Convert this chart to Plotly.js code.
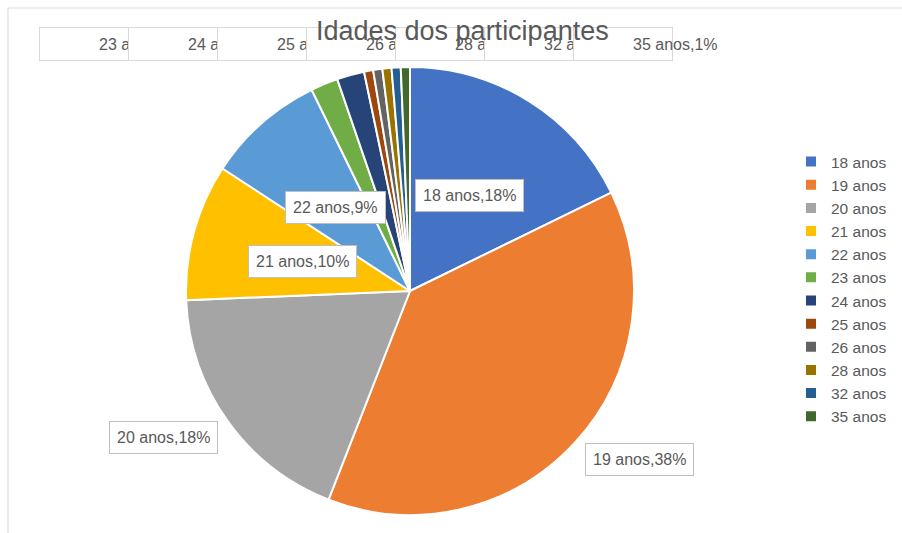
<!DOCTYPE html>
<html>
<head>
<meta charset="utf-8">
<script src="https://cdn.plot.ly/plotly-3.0.1.min.js"></script>
<style>html,body{margin:0;padding:0;background:#fff;}#chart{width:902px;height:533px;}</style>
</head>
<body>
<div id="chart"></div>
<script>
// ---- data ----
const labels = ["18 anos","19 anos","20 anos","21 anos","22 anos","23 anos","24 anos","25 anos","26 anos","28 anos","32 anos","35 anos"];
const counts = [27, 58, 28, 15, 13, 3, 3, 1, 1, 1, 1, 1];
const colors = ["#4472C4","#ED7D31","#A5A5A5","#FFC000","#5B9BD5","#70AD47","#264478","#9E480E","#636363","#997300","#255E91","#43682B"];
const titleText = "Idades dos participantes";

// ---- layout constants ----
const W = 902, H = 533;
const pieLeft = 186, pieTop = 67, pieSize = 448;
const cx = pieLeft + pieSize / 2, cy = pieTop + pieSize / 2, R = pieSize / 2;
const px = x => x / W;
const py = y => 1 - y / H;
const FONT = "Liberation Sans, Arial, sans-serif";
const TXT = "#595959";

// label placement rules (Excel "best fit" look)
const insideSet = {"18 anos":1, "21 anos":1, "22 anos":1};
const outsideSet = {"19 anos":1, "20 anos":1};
const rowStart = 39, rowStep = 89, rowBoxW = 100, rowTop = 27, rowBoxH = 34, rowTextOff = 58;

const total = counts.reduce((a, b) => a + b, 0);
const annotations = [];
let cum = 0, rowIdx = 0;
counts.forEach((v, i) => {
  const start = cum / total * 360;
  cum += v;
  const end = cum / total * 360;
  const mid = (start + end) / 2 * Math.PI / 180;
  const txt = labels[i] + "," + Math.round(v / total * 100) + "%";
  const base = {
    text: txt, showarrow: false, xref: "paper", yref: "paper",
    font: {family: FONT, size: 16, color: TXT},
    bgcolor: "#ffffff", bordercolor: "#BFBFBF", borderwidth: 1, borderpad: 7
  };
  if (insideSet[labels[i]]) {
    const r = 0.5 * R;
    annotations.push(Object.assign({}, base, {
      x: px(cx + r * Math.sin(mid)), y: py(cy - r * Math.cos(mid)),
      xanchor: "center", yanchor: "middle"
    }));
  } else if (outsideSet[labels[i]]) {
    const ex = cx + R * Math.sin(mid), ey = cy - R * Math.cos(mid);
    const right = Math.sin(mid) >= 0;
    annotations.push(Object.assign({}, base, {
      x: px(ex + (right ? 10 : -10)), y: py(ey),
      xanchor: right ? "left" : "right", yanchor: "top"
    }));
  } else {
    const left = rowStart + rowIdx * rowStep;
    rowIdx++;
    annotations.push({
      text: " ", showarrow: false, xref: "paper", yref: "paper",
      x: px(left), y: py(rowTop), xanchor: "left", yanchor: "top",
      width: rowBoxW - 2, height: rowBoxH - 2,
      bgcolor: "#ffffff", bordercolor: "#D9D9D9", borderwidth: 1, borderpad: 0,
      font: {family: FONT, size: 16, color: TXT}
    });
    annotations.push({
      text: txt, showarrow: false, xref: "paper", yref: "paper",
      x: px(left + rowTextOff), y: py(rowTop + rowBoxH / 2),
      xanchor: "left", yanchor: "middle",
      font: {family: FONT, size: 16, color: TXT}
    });
  }
});

// chart title drawn last so it sits above the overflowing label boxes (as in the reference)
annotations.push({
  text: titleText, showarrow: false, xref: "paper", yref: "paper",
  x: px(462), y: py(31), xanchor: "center", yanchor: "middle",
  font: {family: FONT, size: 27, color: TXT}
});

const trace = {
  type: "pie",
  labels: labels,
  values: counts,
  sort: false,
  direction: "clockwise",
  rotation: 0,
  textinfo: "none",
  hoverinfo: "none",
  marker: {colors: colors, line: {color: "#ffffff", width: 2}},
  domain: {x: [px(pieLeft), px(pieLeft + pieSize)], y: [py(pieTop + pieSize), py(pieTop)]},
  automargin: false
};

const layout = {
  width: W, height: H,
  margin: {l: 0, r: 0, t: 0, b: 0},
  paper_bgcolor: "#ffffff",
  showlegend: true,
  legend: {
    x: px(791), y: py(145), xanchor: "left", yanchor: "top",
    font: {family: FONT, size: 15.5, color: TXT},
    bgcolor: "rgba(0,0,0,0)"
  },
  annotations: annotations,
  shapes: [
    {type: "line", xref: "paper", yref: "paper", x0: px(8), x1: 1.02, y0: py(8), y1: py(8), line: {color: "#D9D9D9", width: 1}},
    {type: "line", xref: "paper", yref: "paper", x0: px(8), x1: px(8), y0: py(8), y1: -0.02, line: {color: "#D9D9D9", width: 1}}
  ]
};

Plotly.newPlot("chart", [trace], layout, {displayModeBar: false, staticPlot: true});
</script>
</body>
</html>
